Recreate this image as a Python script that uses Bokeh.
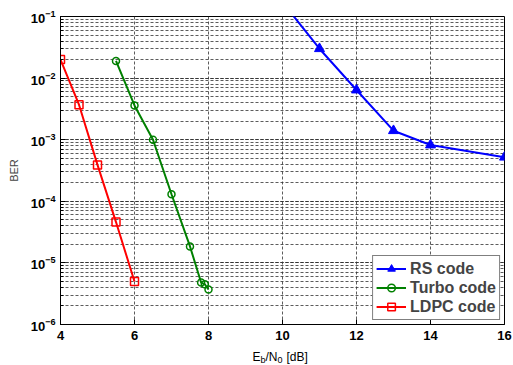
from bokeh.plotting import figure
from bokeh.models import FixedTicker, LogTicker, Label, Range1d
from bokeh.embed import file_html
from bokeh.resources import INLINE

# Data
rs_x = [10, 11, 12, 13, 14, 16]
rs_y = [0.17, 3.0e-2, 6.4e-3, 1.4e-3, 8.2e-4, 5.2e-4]
turbo_x = [5.5, 6, 6.5, 7, 7.5, 7.8, 7.9, 8.0]
turbo_y = [1.9e-2, 3.6e-3, 1.0e-3, 1.3e-4, 1.85e-5, 4.8e-6, 4.5e-6, 3.7e-6]
ldpc_x = [4, 4.5, 5, 5.5, 6]
ldpc_y = [2.0e-2, 3.7e-3, 3.9e-4, 4.6e-5, 5.0e-6]
x_ticks = [4, 6, 8, 10, 12, 14, 16]

FONT = "Liberation Sans"

p = figure(frame_width=444, frame_height=308, y_axis_type="log",
           x_range=Range1d(4, 16), y_range=Range1d(1e-6, 1e-1),
           output_backend="svg", toolbar_location=None,
           min_border_left=60, min_border_right=9, min_border_top=16, min_border_bottom=41)
p.background_fill_color = "white"
p.border_fill_color = "white"
p.outline_line_color = "black"
p.outline_line_width = 1

p.xaxis.ticker = FixedTicker(ticks=x_ticks, minor_ticks=[])
p.yaxis.ticker = LogTicker(num_minor_ticks=10)
for ax in (p.xaxis, p.yaxis):
    ax.major_label_text_font = FONT
    ax.major_label_text_font_style = "bold"
    ax.major_label_text_font_size = "13px"
    ax.major_label_text_color = "black"
    ax.axis_line_color = "black"
    ax.major_tick_in = 5
    ax.major_tick_out = 0
    ax.minor_tick_in = 3
    ax.minor_tick_out = 0
    ax.axis_label_text_font = FONT
    ax.axis_label_text_font_style = "normal"
    ax.axis_label_text_font_size = "11px"
p.xaxis.major_label_standoff = 6
p.yaxis.axis_label = "BER"
p.yaxis.axis_label_standoff = 8

p.xgrid.grid_line_color = "#333333"
p.xgrid.grid_line_dash = "3 2"
p.xgrid.grid_line_alpha = 0.8
p.ygrid.grid_line_color = "#333333"
p.ygrid.grid_line_dash = "3 2"
p.ygrid.grid_line_alpha = 0.8
p.ygrid.minor_grid_line_color = "#333333"
p.ygrid.minor_grid_line_dash = "3 2"
p.ygrid.minor_grid_line_alpha = 0.8

p.line(rs_x, rs_y, color="#0000ff", line_width=2, legend_label="RS code")
p.scatter(rs_x, rs_y, marker="triangle", size=10, color="#0000ff", legend_label="RS code")
p.line(turbo_x, turbo_y, color="#008000", line_width=2, legend_label="Turbo code")
p.scatter(turbo_x, turbo_y, marker="circle", size=7, line_color="#008000", fill_color=None,
          line_width=1.5, legend_label="Turbo code")
p.line(ldpc_x, ldpc_y, color="#ff0000", line_width=2, legend_label="LDPC code")
p.scatter(ldpc_x, ldpc_y, marker="square", size=8, line_color="#ff0000", fill_color=None,
          line_width=1.5, legend_label="LDPC code")

p.legend.location = "bottom_right"
p.legend.margin = 4
p.legend.border_line_color = "black"
p.legend.border_line_width = 1
p.legend.label_text_font = FONT
p.legend.label_text_font_style = "bold"
p.legend.label_text_font_size = "16px"
p.legend.glyph_width = 30
p.legend.glyph_height = 19
p.legend.spacing = 0
p.legend.padding = 3
p.legend.label_height = 19
p.legend.label_standoff = 4
p.legend.background_fill_alpha = 1

# x axis label with subscripts, placed in the panel below the axis (canvas units)
lab_kw = dict(x_units="canvas", y_units="canvas", text_font=FONT, text_color="black",
              text_baseline="alphabetic")
x0 = 252
yb = 356
for dx, dy, txt, fs in [(0, 0, "E", "12px"), (8, 3, "b", "9px"), (13, 0, "/N", "12px"),
                        (25, 3, "0", "9px"), (34, 0, "[dB]", "12px")]:
    p.add_layout(Label(x=x0 + dx, y=yb + dy, text=txt, text_font_size=fs, **lab_kw), "below")

open("out.html", "w").write(file_html(p, INLINE))
